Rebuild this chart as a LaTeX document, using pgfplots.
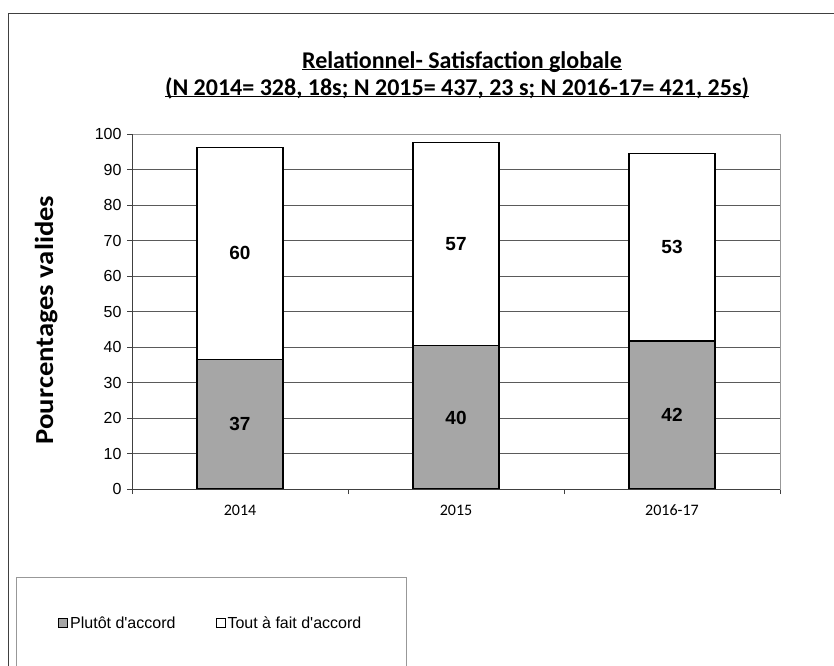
\documentclass[border=0pt]{standalone}
\usepackage{pgfplots}
\usepackage{pgfplotstable}
\pgfplotsset{compat=1.18}
\usepackage{fontspec}
\setmainfont{Liberation Sans}[Ligatures=TeXOff]
\newfontfamily\calibri{Carlito}
\newfontfamily\calibriwide{Carlito}[FakeStretch=1.1]
\newcommand\ul[1]{\setbox0\hbox{#1}\rlap{\rule[-2.4bp]{\wd0}{1.4bp}}\box0}
\definecolor{barg}{HTML}{A6A6A6}
\definecolor{gridc}{HTML}{5A5A5A}
\definecolor{boxc}{HTML}{989898}
\definecolor{framec}{HTML}{404040}

\pgfplotstableread{
x gray white
0 36.6 59.7
1 40.3 57.2
2 41.7 52.9
}\data

\begin{document}
\begin{tikzpicture}
\useasboundingbox (0,0) rectangle (834bp,-666bp);
\clip (0,0) rectangle (834bp,-666bp);
\fill[white] (0,0) rectangle (834bp,-666bp);
% outer frame
\draw[framec, line width=1bp] (8bp,-700bp) -- (8bp,-13bp) -- (860bp,-13bp);
% legend box
\draw[boxc, line width=1bp] (16bp,-700bp) -- (16bp,-577bp) -- (406bp,-577bp) -- (406bp,-700bp);
% title
\node[anchor=base, font=\calibri\bfseries\fontsize{24bp}{28bp}\selectfont] at (462bp,-68bp) {\ul{Relationnel- Satisfaction globale}};
\node[anchor=base, font=\calibri\bfseries\fontsize{24bp}{28bp}\selectfont] at (457bp,-95bp) {\ul{(N 2014= 328, 18s; N 2015= 437, 23 s; N 2016-17= 421, 25s)}};
% y label
\node[rotate=90, anchor=base, font=\calibriwide\bfseries\fontsize{26bp}{30bp}\selectfont] at (53bp,-320bp) {Pourcentages valides};
\begin{axis}[
  at={(132bp,-489bp)}, anchor=south west,
  scale only axis, width=648bp, height=355bp,
  xmin=-0.5, xmax=2.5, ymin=0, ymax=100,
  ytick={0,10,...,100},
  xtick={-0.5,0.5,1.5,2.5}, xticklabels={,,,},
  extra x ticks={0,1,2}, extra x tick labels={2014,2015,2016-17},
  extra x tick style={major tick length=0pt, grid=none,
    x tick label style={font=\calibri\fontsize{16bp}{19bp}\selectfont, anchor=center, yshift=-21bp}},
  xtick pos=bottom, ytick pos=left,
  tick align=outside, major tick length=5bp,
  tick style={framec, line width=1bp},
  y tick label style={font=\fontsize{16bp}{19bp}\selectfont, xshift=-2bp},
  /pgf/number format/assume math mode=true,
  ymajorgrids, grid style={gridc, line width=0.9bp},
  axis line style={boxc, line width=1bp},
  legend image code/.code={\filldraw[#1, line width=1bp] (0bp,-4.5bp) rectangle (9bp,4.5bp);},
  legend style={at={(axis description cs:-0.1142,-0.3775)}, anchor=west,
    draw=none, fill=none, inner sep=0pt, legend columns=2,
    font=\fontsize{16bp}{19bp}\selectfont,
    nodes={inner sep=2bp},
    /tikz/every even column/.append style={column sep=38bp}},
]
\addplot[ybar, bar width=86bp, bar shift=0pt, fill=white, draw=black, line width=1.1bp, forget plot]
  table[x=x, y expr=\thisrow{gray}+\thisrow{white}] {\data};
\addplot[ybar, bar width=86bp, bar shift=0pt, fill=barg, draw=black, line width=1.1bp, forget plot]
  table[x=x, y=gray] {\data};
\addplot[draw=none, mark=none, forget plot, point meta=\thisrow{gray},
  nodes near coords={\pgfmathprintnumber[fixed,precision=0]{\pgfplotspointmeta}},
  every node near coord/.append style={anchor=center, text=black, font=\bfseries\fontsize{19bp}{22bp}\selectfont}]
  table[x=x, y expr=\thisrow{gray}/2] {\data};
\addplot[draw=none, mark=none, forget plot, point meta=\thisrow{white},
  nodes near coords={\pgfmathprintnumber[fixed,precision=0]{\pgfplotspointmeta}},
  every node near coord/.append style={anchor=center, text=black, font=\bfseries\fontsize{19bp}{22bp}\selectfont}]
  table[x=x, y expr=\thisrow{gray}+\thisrow{white}/2] {\data};
\draw[framec, line width=1bp] (rel axis cs:0,1) -- (rel axis cs:0,0) -- (rel axis cs:1,0);
\addlegendimage{fill=barg, draw=black}
\addlegendentry{Plutôt d'accord}
\addlegendimage{fill=white, draw=black}
\addlegendentry{Tout à fait d'accord}
\end{axis}
\end{tikzpicture}
\end{document}
